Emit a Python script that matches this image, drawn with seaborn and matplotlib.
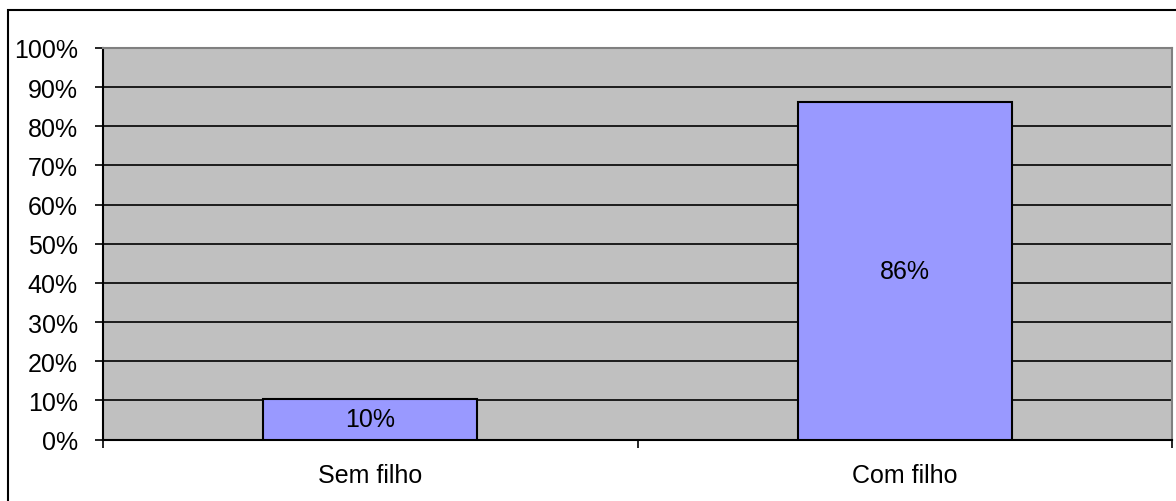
import matplotlib
matplotlib.use("Agg")
import matplotlib.pyplot as plt
import seaborn as sns
import pandas as pd
from matplotlib.ticker import PercentFormatter, FixedLocator
from matplotlib.patches import Rectangle

#data
categories = ["Sem filho", "Com filho"]
values = [10.4, 86.2]
yticks = [0, 10, 20, 30, 40, 50, 60, 70, 80, 90, 100]

df = pd.DataFrame({"grupo": categories, "pct": values})

sns.set_style("white")
plt.rcParams["font.family"] = ["Liberation Sans", "DejaVu Sans"]
plt.rcParams["text.color"] = "black"
plt.rcParams["xtick.color"] = "black"
plt.rcParams["ytick.color"] = "black"
plt.rcParams["xtick.labelcolor"] = "black"
plt.rcParams["ytick.labelcolor"] = "black"

fig = plt.figure(figsize=(11.76, 5.02), dpi=100)
ax = fig.add_axes([103/1176, 1-440.5/502, (1172-103)/1176, (440.5-49)/502])

sns.barplot(data=df, x="grupo", y="pct", color="#9999FF", width=0.4,
            edgecolor="black", linewidth=1.5, saturation=1, ax=ax, zorder=3)

#label inside bars
ax.bar_label(ax.containers[0], labels=[f"{v:.0f}%" for v in values],
             label_type="center", fontsize=18, color="black")

#excel like look
ax.set_facecolor("#C0C0C0")
ax.set_xlim(-0.5, 1.5)
ax.set_ylim(0, 100)
ax.set_yticks(yticks)
ax.yaxis.set_major_formatter(PercentFormatter(decimals=0))
ax.grid(axis="y", color="black", linewidth=1.2, zorder=0)
ax.set_axisbelow(True)
ax.set_xlabel("")
ax.set_ylabel("")

for s in ["top", "right"]:
    ax.spines[s].set_color("#808080")
    ax.spines[s].set_linewidth(1.5)
for s in ["left", "bottom"]:
    ax.spines[s].set_color("black")
    ax.spines[s].set_linewidth(1.5)

ax.tick_params(axis="y", which="major", left=True, length=6, width=1.2,
               color="black", pad=12, labelsize=18, labelcolor="black")
ax.tick_params(axis="x", which="major", bottom=False, length=0, pad=17,
               labelsize=18, labelcolor="black")
ax.xaxis.set_minor_locator(FixedLocator([-0.5, 0.5, 1.5]))
ax.tick_params(axis="x", which="minor", bottom=True, length=6, width=1.2,
               color="black")

#outer chart border
fig.patches.append(Rectangle((8/1176, -0.1), 1.1, 1-11/502+0.1,
                             transform=fig.transFigure, fill=False,
                             edgecolor="black", linewidth=1.5))

fig.savefig("out.png", dpi=100)
plt.close()
